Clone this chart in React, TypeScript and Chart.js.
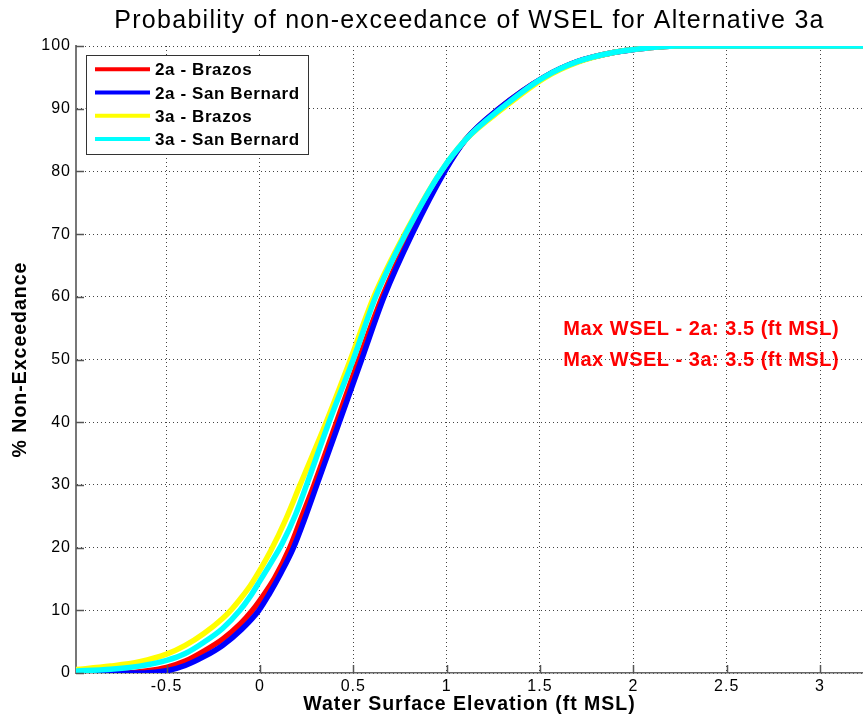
import React, { useEffect, useRef } from "react";
import { Chart, registerables } from "chart.js";

Chart.register(...registerables);

// ---- Text ----
const titleText = "Probability of non-exceedance of WSEL for Alternative 3a";
const xTitleText = "Water Surface Elevation (ft MSL)";
const yTitleText = "% Non-Exceedance";
const annotationLines = ["Max WSEL - 2a: 3.5 (ft MSL)", "Max WSEL - 3a: 3.5 (ft MSL)"];

// ---- Axes ----
const xTicks = [-0.5, 0, 0.5, 1, 1.5, 2, 2.5, 3];
const yTicks = [0, 10, 20, 30, 40, 50, 60, 70, 80, 90, 100];
const xMin = -0.985;
const xMax = 3.23;

// ---- Series ----
const seriesLabels = ["2a - Brazos", "2a - San Bernard", "3a - Brazos", "3a - San Bernard"];
const seriesColors = ["#ff0000", "#0000ff", "#ffff00", "#00ffff"];

// 2a - Brazos (WSEL ft MSL, % non-exceedance)
const brazos2aX = [-1.0, -0.72, -0.6, -0.5, -0.4, -0.3, -0.2, -0.103, -0.04, 0.0, 0.08, 0.16, 0.225, 0.29, 0.41, 0.53, 0.655, 0.805, 0.985, 1.1, 1.28, 1.52, 1.7, 1.9, 2.08, 2.22, 3.5];
const brazos2aY = [0, 0, 0.35, 0.9, 1.9, 3.5, 5.4, 7.9, 10, 11.6, 15.2, 20, 25, 30, 40, 50, 60, 70, 80, 85, 90, 95, 97.5, 99, 99.7, 100, 100];

// 2a - San Bernard
const sanBernard2aX = [-1.0, -0.62, -0.5, -0.4, -0.3, -0.2, -0.1, -0.005, 0.05, 0.11, 0.18, 0.245, 0.305, 0.425, 0.545, 0.665, 0.815, 0.99, 1.1, 1.28, 1.52, 1.7, 1.9, 2.08, 2.22, 3.5];
const sanBernard2aY = [0, 0, 0.35, 1.2, 2.6, 4.4, 6.9, 10, 12.6, 15.8, 20, 25, 30, 40, 50, 60, 70, 80, 85, 90, 95, 97.5, 99, 99.7, 100, 100];

// 3a - Brazos
const brazos3aX = [-1.0, -0.8, -0.644, -0.5, -0.4, -0.3, -0.2, -0.15, -0.1, -0.05, 0.0, 0.06, 0.14, 0.215, 0.355, 0.485, 0.61, 0.775, 0.97, 1.1, 1.3, 1.53, 1.71, 1.9, 2.08, 2.22, 3.5];
const brazos3aY = [0.5, 1.1, 1.8, 3.0, 4.4, 6.3, 8.7, 10.2, 12.0, 14.0, 16.4, 19.6, 24.6, 30, 40, 50, 60, 70, 80, 85, 90, 95, 97.5, 99, 99.7, 100, 100];

// 3a - San Bernard
const sanBernard3aX = [-1.0, -0.8, -0.644, -0.5, -0.4, -0.3, -0.2, -0.107, -0.05, 0.0, 0.06, 0.12, 0.19, 0.25, 0.37, 0.5, 0.62, 0.78, 0.97, 1.1, 1.29, 1.52, 1.7, 1.9, 2.08, 2.22, 3.5];
const sanBernard3aY = [0.3, 0.6, 1.1, 2.0, 3.1, 4.9, 7.1, 10, 12.3, 14.7, 17.6, 20.7, 25.2, 30, 40, 50, 60, 70, 80, 85, 90, 95, 97.5, 99, 99.7, 100, 100];

const seriesX = [brazos2aX, sanBernard2aX, brazos3aX, sanBernard3aX];
const seriesY = [brazos2aY, sanBernard2aY, brazos3aY, sanBernard3aY];
const drawOrder = [3, 2, 1, 0]; // cyan drawn last (on top)

const FONT = '"Liberation Sans", Arial, Helvetica, sans-serif';

const decorPlugin = {
  id: "decor",
  beforeDraw(chart: any) {
    chart.ctx.letterSpacing = "1px";
  },
  afterDraw(chart: any) {
    const { ctx, chartArea: ca, scales } = chart;
    const xs = scales.x;
    const ys = scales.y;
    ctx.save();

    // inward tick marks
    ctx.strokeStyle = "#555";
    ctx.lineWidth = 1.5;
    ctx.setLineDash([]);
    ys.ticks.forEach((t: any) => {
      const y = Math.round(ys.getPixelForValue(t.value)) + 0.5;
      ctx.beginPath();
      ctx.moveTo(ca.left, y);
      ctx.lineTo(ca.left + 8, y);
      ctx.stroke();
    });
    xs.ticks.forEach((t: any) => {
      const x = Math.round(xs.getPixelForValue(t.value)) + 0.5;
      ctx.beginPath();
      ctx.moveTo(x, ca.bottom);
      ctx.lineTo(x, ca.bottom - 8);
      ctx.stroke();
    });

    // title
    ctx.letterSpacing = "1.3px";
    ctx.font = `25px ${FONT}`;
    ctx.fillStyle = "#000";
    ctx.textAlign = "center";
    ctx.textBaseline = "alphabetic";
    ctx.fillText(titleText, (ca.left + ca.right) / 2, 28);

    // legend
    const lx = ca.left + 9.5;
    const ly = ca.top + 9;
    const lw = 222;
    const lh = 99;
    ctx.fillStyle = "#fff";
    ctx.fillRect(lx, ly, lw, lh);
    ctx.strokeStyle = "#333";
    ctx.lineWidth = 1;
    ctx.strokeRect(Math.round(lx) + 0.5, Math.round(ly) + 0.5, lw, lh);
    ctx.font = `bold 17px ${FONT}`;
    ctx.letterSpacing = "0.6px";
    ctx.textAlign = "left";
    chart.data.datasets.forEach((ds: any, i: number) => {
      const y = ly + 14.3 + i * 23.2;
      ctx.strokeStyle = ds.borderColor;
      ctx.lineWidth = 4;
      ctx.beginPath();
      ctx.moveTo(lx + 9.5, y);
      ctx.lineTo(lx + 64.5, y);
      ctx.stroke();
      ctx.fillStyle = "#000";
      ctx.fillText(ds.label, lx + 69.5, y + 6);
    });

    // annotations
    ctx.font = `bold 20px ${FONT}`;
    ctx.letterSpacing = "0.5px";
    ctx.fillStyle = "#ff0000";
    ctx.textAlign = "left";
    const ax = xs.getPixelForValue(1.625);
    ctx.fillText(annotationLines[0], ax, ys.getPixelForValue(53.9));
    ctx.fillText(annotationLines[1], ax, ys.getPixelForValue(49.0));

    ctx.restore();
  },
};

export default function App() {
  const canvasRef = useRef<HTMLCanvasElement | null>(null);

  useEffect(() => {
    const canvas = canvasRef.current;
    if (!canvas) return;
    const datasets = seriesLabels.map((label, i) => ({
      label,
      data: seriesX[i].map((x, j) => ({ x, y: seriesY[i][j] })),
      borderColor: seriesColors[i],
      backgroundColor: seriesColors[i],
      borderWidth: 5.5,
      pointRadius: 0,
      pointHoverRadius: 0,
      fill: false,
      cubicInterpolationMode: "monotone" as const,
      clip: 0,
      order: drawOrder[i],
    }));

    const chart = new Chart(canvas, {
      type: "line",
      data: { datasets },
      options: {
        animation: false,
        responsive: false,
        devicePixelRatio: 1,
        events: [],
        layout: { padding: { top: 46, left: 0, right: 0, bottom: 0 } },
        plugins: {
          legend: { display: false },
          title: { display: false },
          tooltip: { enabled: false },
        },
        scales: {
          x: {
            type: "linear",
            min: xMin,
            max: xMax,
            afterBuildTicks: (s: any) => {
              s.ticks = xTicks.map((v) => ({ value: v }));
            },
            afterFit: (s: any) => {
              s.height = 52;
            },
            grid: { color: "#444", lineWidth: 1, drawTicks: false },
            border: { display: true, color: "#666", width: 1.5, dash: [1, 3] },
            ticks: {
              color: "#000",
              font: { family: FONT, size: 16 },
              padding: 4,
              maxRotation: 0,
              autoSkip: false,
              callback: (v: any) => String(v),
            },
            title: {
              display: true,
              text: xTitleText,
              color: "#000",
              font: { family: FONT, size: 19.5, weight: "bold" },
              padding: { top: 0, bottom: 9 },
            },
          },
          y: {
            type: "linear",
            min: 0,
            max: 100,
            afterBuildTicks: (s: any) => {
              s.ticks = yTicks.map((v) => ({ value: v }));
            },
            afterFit: (s: any) => {
              s.width = 76;
            },
            grid: { color: "#444", lineWidth: 1, drawTicks: false },
            border: { display: true, color: "#777", width: 2, dash: [1, 3] },
            ticks: {
              color: "#000",
              font: { family: FONT, size: 16 },
              padding: 5,
              autoSkip: false,
              callback: (v: any) => String(v),
            },
            title: {
              display: true,
              text: yTitleText,
              color: "#000",
              font: { family: FONT, size: 19.5, weight: "bold" },
              padding: { top: 9, bottom: 0 },
            },
          },
        },
      },
      plugins: [decorPlugin],
    });
    return () => chart.destroy();
  }, []);

  return (
    <div style={{ position: "absolute", left: 0, top: 0, width: 863, height: 725, background: "#fff" }}>
      <canvas ref={canvasRef} width={863} height={725} style={{ display: "block" }} />
    </div>
  );
}
